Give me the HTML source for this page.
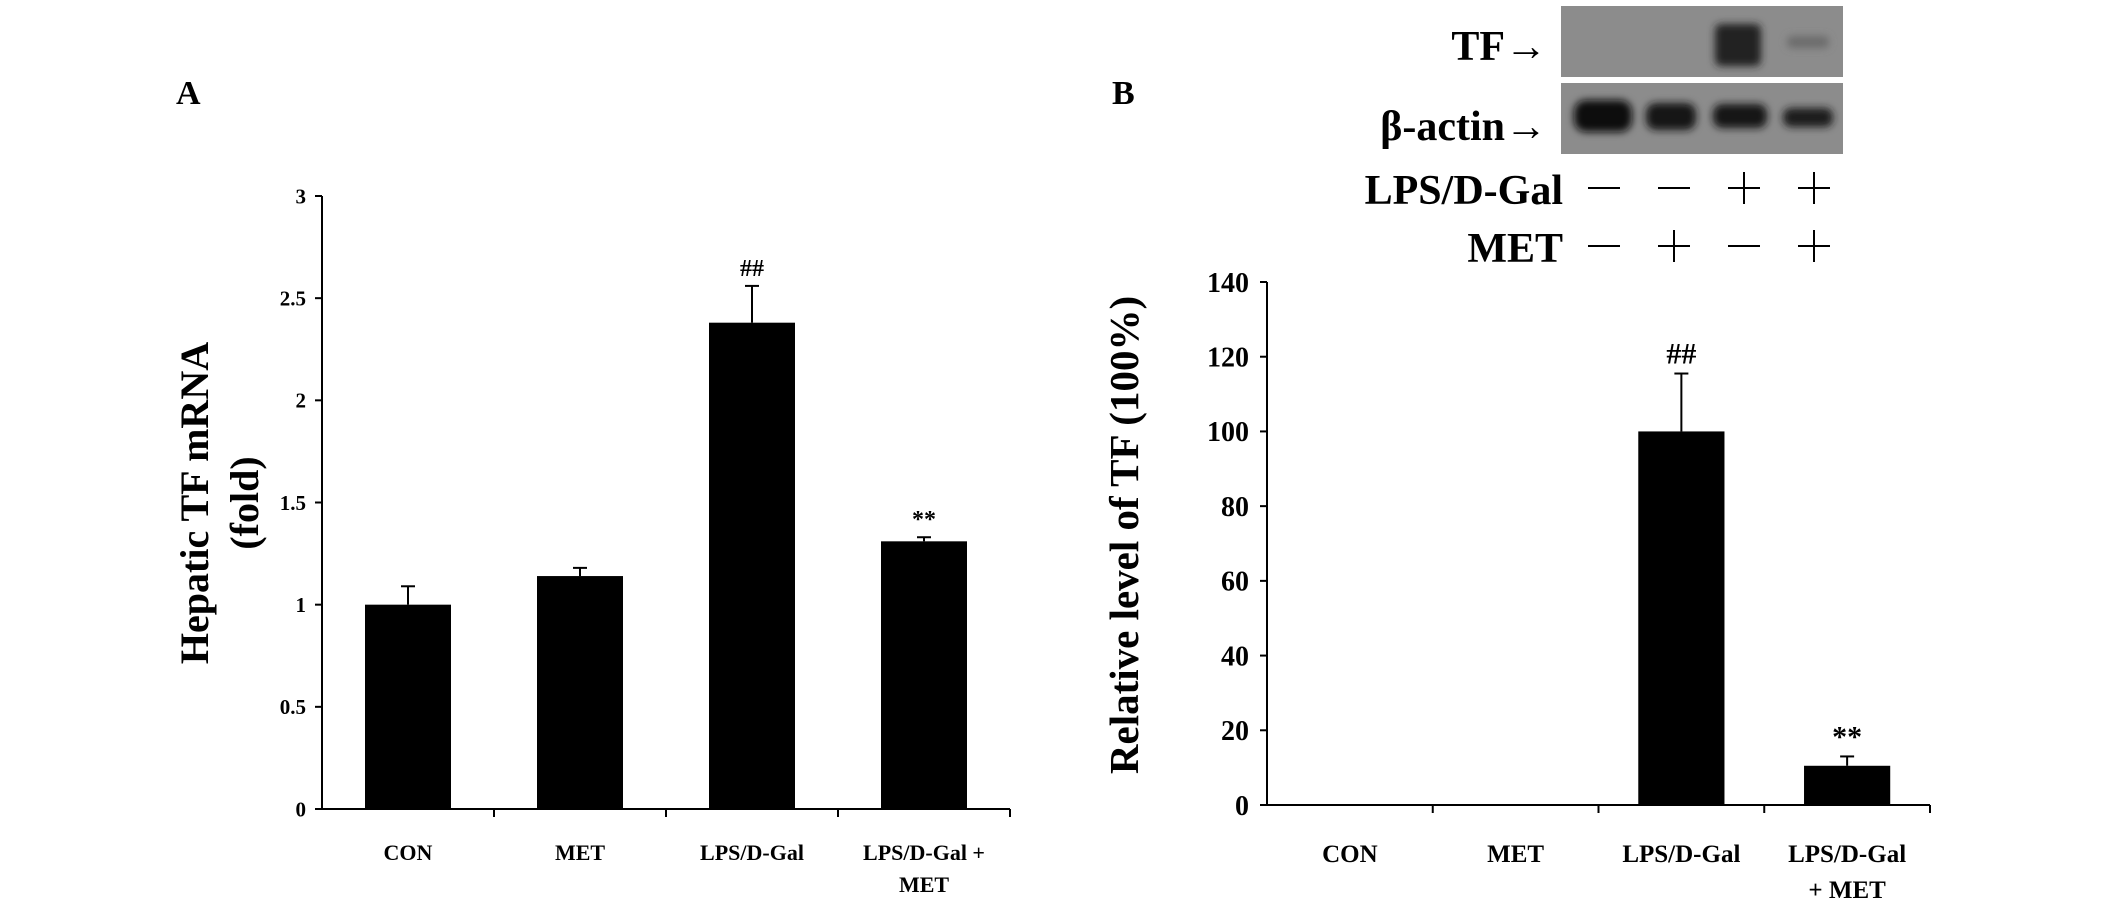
<!DOCTYPE html>
<html><head><meta charset="utf-8"><style>
html,body{margin:0;padding:0;background:#fff;}
svg{display:block;font-family:"Liberation Serif",serif;font-weight:bold;}
</style></head><body>
<svg id="c" width="2126" height="900" viewBox="0 0 2126 900">
<defs>
<filter id="blur" x="-30%" y="-50%" width="160%" height="200%"><feGaussianBlur stdDeviation="4"/></filter>
</defs>
<text x="176" y="104" font-size="34">A</text>
<text x="1112" y="104" font-size="34">B</text>
<g id="blot">
<rect x="1561" y="6" width="282" height="71" fill="#8c8c8c"/>
<rect x="1561" y="83" width="282" height="71" fill="#8c8c8c"/>
<g filter="url(#blur)">
<rect x="1715" y="24" width="46" height="42" rx="6" fill="#222"/>
<rect x="1787" y="36" width="42" height="12" rx="5" fill="#6c6c6c"/>
<rect x="1574" y="100" width="58" height="32" rx="12" fill="#111"/>
<rect x="1646" y="103" width="50" height="27" rx="10" fill="#151515"/>
<rect x="1713" y="104" width="54" height="24" rx="9" fill="#181818"/>
<rect x="1783" y="108" width="50" height="19" rx="8" fill="#1a1a1a"/>
</g>
<text x="1547" y="60" font-size="42" text-anchor="end">TF→</text>
<text x="1547" y="140" font-size="42" text-anchor="end">β-actin→</text>
<text x="1563" y="204" font-size="42" text-anchor="end">LPS/D-Gal</text>
<text x="1563" y="262" font-size="42" text-anchor="end">MET</text>
</g>
<g id="A"></g>
<g id="B"></g>
</svg>
<script>
const NS="http://www.w3.org/2000/svg";
const catsA=["CON","MET","LPS/D-Gal","LPS/D-Gal +|MET"];
const valsA=[1.0,1.14,2.38,1.31];
const errA=[0.09,0.04,0.18,0.02];
const marksA=["","","##","**"];
const ticksA=[0,0.5,1,1.5,2,2.5,3];
const tickLabelsA=["0","0.5","1","1.5","2","2.5","3"];
const catsB=["CON","MET","LPS/D-Gal","LPS/D-Gal|+ MET"];
const valsB=[0,0,100,10.5];
const errB=[0,0,15.5,2.5];
const marksB=["","","##","**"];
const ticksB=[0,20,40,60,80,100,120,140];
const tickLabelsB=["0","20","40","60","80","100","120","140"];
const lpsSigns=["-","-","+","+"];
const metSigns=["-","+","-","+"];

function el(parent,tag,attrs,text){const e=document.createElementNS(NS,tag);for(const k in attrs)e.setAttribute(k,attrs[k]);if(text!==undefined)e.textContent=text;parent.appendChild(e);return e;}

function chart(g,o){
  const y=v=>o.y0-(v-o.min)/(o.max-o.min)*(o.y0-o.yTop);
  const cw=(o.xEnd-o.x0)/o.cats.length;
  const ax=el(g,'line',{x1:o.x0,y1:o.yTop,x2:o.x0,y2:o.y0,stroke:'#000','stroke-width':2});
  
  const bx=el(g,'line',{x1:o.x0,y1:o.y0,x2:o.xEnd,y2:o.y0,stroke:'#000','stroke-width':2});
  
  o.ticks.forEach((t,i)=>{
    const l=el(g,'line',{x1:o.x0-7,y1:y(t),x2:o.x0,y2:y(t),stroke:'#000','stroke-width':2});
    
    const tx=el(g,'text',{x:o.x0-o.tickGap,y:y(t)+o.tfs*0.35,'font-size':o.tfs,'text-anchor':'end'},o.tickLabels[i]);
    
  });
  for(let i=1;i<=o.cats.length;i++){
    const l=el(g,'line',{x1:o.x0+cw*i,y1:o.y0,x2:o.x0+cw*i,y2:o.y0+8,stroke:'#000','stroke-width':2});
    
  }
  o.cats.forEach((c,i)=>{
    const cx=o.x0+cw*(i+0.5);
    const bw=cw*o.bwFrac;
    if(o.vals[i]>0){
      const r=el(g,'rect',{x:cx-bw/2,y:y(o.vals[i]),width:bw,height:o.y0-y(o.vals[i]),fill:'#000'});
      
      const e1=el(g,'line',{x1:cx,y1:y(o.vals[i]),x2:cx,y2:y(o.vals[i]+o.err[i]),stroke:'#000','stroke-width':2});
      
      const e2=el(g,'line',{x1:cx-7,y1:y(o.vals[i]+o.err[i]),x2:cx+7,y2:y(o.vals[i]+o.err[i]),stroke:'#000','stroke-width':2});
      
    }
    if(o.marks[i]){
      const m=el(g,'text',{x:cx,y:y(o.vals[i]+o.err[i])-10,'font-size':o.mfs,'text-anchor':'middle'},o.marks[i]);
      
    }
    c.split('|').forEach((ln,j)=>{
      const t=el(g,'text',{x:cx,y:o.labY+j*o.labLH,'font-size':o.lfs,'text-anchor':'middle'},ln);
      
    });
  });
  o.title.forEach((ln,j)=>{
    const t=el(g,'text',{x:0,y:0,'font-size':o.titleFs,'text-anchor':'middle',transform:`translate(${o.titleX+j*o.titleLH},${o.titleY}) rotate(-90)`},ln);
    
  });
}
chart(document.getElementById('A'),{x0:322,xEnd:1010,yTop:196,y0:809,min:0,max:3,cats:catsA,vals:valsA,err:errA,marks:marksA,ticks:ticksA,tickLabels:tickLabelsA,tfs:21,tickGap:16,bwFrac:0.5,mfs:24,lfs:22,labY:860,labLH:32,title:["Hepatic TF mRNA","(fold)"],titleFs:40,titleX:208,titleLH:50,titleY:503});
chart(document.getElementById('B'),{x0:1267,xEnd:1930,yTop:282,y0:805,min:0,max:140,cats:catsB,vals:valsB,err:errB,marks:marksB,ticks:ticksB,tickLabels:tickLabelsB,tfs:28,tickGap:18,bwFrac:0.52,mfs:30,lfs:25,labY:862,labLH:36,title:["Relative level of TF (100%)"],titleFs:41,titleX:1138,titleLH:0,titleY:535});
const svg=document.getElementById('c');
const signX=[1604,1674,1744,1814];
function sign(s,x,yc,name){
  const h=el(svg,'line',{x1:x-16,y1:yc,x2:x+16,y2:yc,stroke:'#000','stroke-width':2});
  
  if(s==='+'){
    const v=el(svg,'line',{x1:x,y1:yc-16,x2:x,y2:yc+16,stroke:'#000','stroke-width':2});
    
  }
}
signX.forEach((x,i)=>{
  sign(lpsSigns[i],x,188,'lps-sign');
  sign(metSigns[i],x,246,'met-sign');
});
</script>
</body></html>
